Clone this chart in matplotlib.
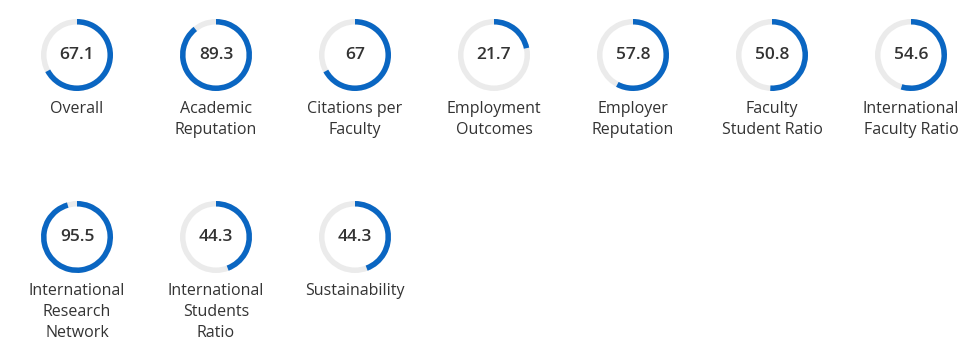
import matplotlib.pyplot as plt
from matplotlib.patches import Wedge

plt.rcParams["font.family"] = ["Open Sans", "DejaVu Sans"]

labels = [
    "Overall",
    "Academic\nReputation",
    "Citations per\nFaculty",
    "Employment\nOutcomes",
    "Employer\nReputation",
    "Faculty\nStudent Ratio",
    "International\nFaculty Ratio",
    "International\nResearch\nNetwork",
    "International\nStudents\nRatio",
    "Sustainability",
]
values = [67.1, 89.3, 67, 21.7, 57.8, 50.8, 54.6, 95.5, 44.3, 44.3]
value_text = ["67.1", "89.3", "67", "21.7", "57.8", "50.8", "54.6", "95.5", "44.3", "44.3"]

W, H = 976, 355
fig = plt.figure(figsize=(W / 100, H / 100), dpi=100)
ax = fig.add_axes([0, 0, 1, 1])
ax.set_xlim(0, W)
ax.set_ylim(H, 0)
ax.set_aspect("equal")
ax.axis("off")

blue = "#0a66c2"
grey = "#ebebeb"
text_col = "#333333"
r_out = 36
ring = 5.5
per_row = 7
x0, dx = 77, 139
row_y = [55, 237]

for i, (lab, v, vt) in enumerate(zip(labels, values, value_text)):
    cx = x0 + dx * (i % per_row)
    cy = row_y[i // per_row]
    ax.add_patch(Wedge((cx, cy), r_out, 0, 360, width=ring, facecolor=grey, edgecolor="none"))
    # y axis is inverted, so angles run clockwise on screen
    ax.add_patch(Wedge((cx, cy), r_out, -90, -90 + 360 * v / 100, width=ring,
                       facecolor=blue, edgecolor="none"))
    ax.text(cx, cy, vt, ha="center", va="center", fontsize=12.5, fontweight="semibold",
            color=text_col)
    ax.text(cx, cy + 46, lab, ha="center", va="top", fontsize=11.5, color=text_col,
            linespacing=1.4)

fig.savefig("out.png", dpi=100, facecolor="white")
